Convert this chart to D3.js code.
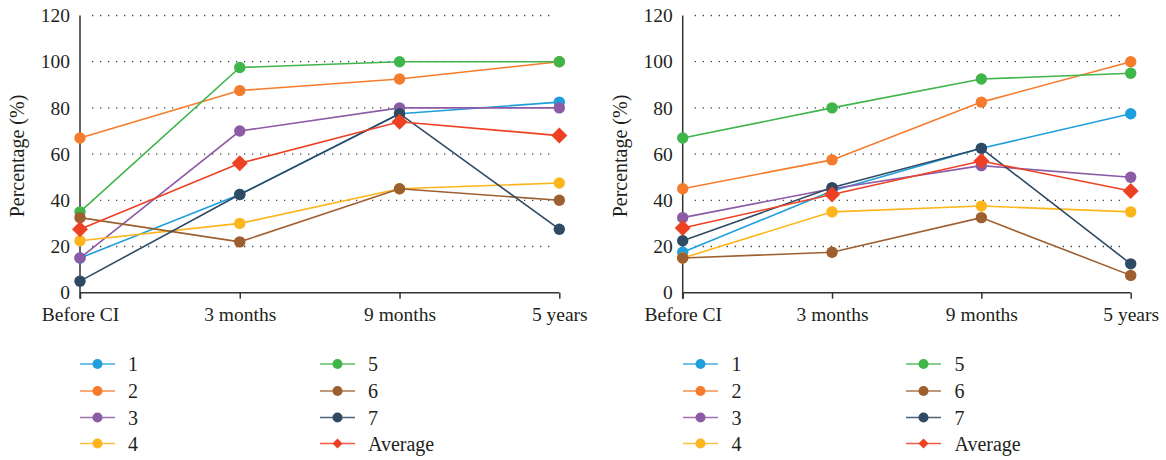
<!DOCTYPE html>
<html>
<head>
<meta charset="utf-8">
<script src="https://cdn.jsdelivr.net/npm/d3@7"></script>
<style>
  html, body { margin: 0; padding: 0; background: #fff; }
  svg { display: block; }
  svg text { font-family: "Liberation Serif", Tinos, "Times New Roman", Times, "Noto Serif", "DejaVu Serif", serif !important; fill: #231f20; }
</style>
</head>
<body>
<svg id="chart" width="1166" height="460"></svg>
<script>
// ---------- data ----------
const categories = ["Before CI", "3 months", "9 months", "5 years"];
const seriesNames = ["1", "2", "3", "4", "5", "6", "7", "Average"];
const yTicks = [0, 20, 40, 60, 80, 100, 120];

// left panel
const left1 = [15, 42.5, 77.5, 82.5];
const left2 = [67, 87.5, 92.5, 100];
const left3 = [15, 70, 80, 80];
const left4 = [22.5, 30, 45, 47.5];
const left5 = [35, 97.5, 100, 100];
const left6 = [32.5, 22, 45, 40];
const left7 = [5, 42.5, 77.5, 27.5];
const leftAvg = [27.5, 56, 74, 68];

// right panel
const right1 = [17.5, 44, 62.5, 77.5];
const right2 = [45, 57.5, 82.5, 100];
const right3 = [32.5, 45, 55, 50];
const right4 = [15, 35, 37.5, 35];
const right5 = [67, 80, 92.5, 95];
const right6 = [15, 17.5, 32.5, 7.5];
const right7 = [22.5, 45.5, 62.5, 12.5];
const rightAvg = [28, 42.5, 57, 44];

const colors = ["#1f9fdc", "#f47c2c", "#8c5ba6", "#fcb51b", "#3fb54a", "#9e5f30", "#2f4a63", "#ee4123"];

// ---------- drawing ----------
const FONT = '"Liberation Serif", Tinos, "Times New Roman", Times, "Noto Serif", "DejaVu Serif", serif';
const svg = d3.select("#chart").attr("font-family", FONT);

function panel(opts) {
  const { x0, x1, data, legend } = opts;
  const y = d3.scaleLinear().domain([0, 120]).range([292.7, 15.5]);
  const x = d3.scalePoint().domain(categories).range([x0, x1]);
  const g = svg.append("g");

  // dotted grid
  g.selectAll("line.grid").data(yTicks.filter(d => d > 0)).join("line")
    .attr("x1", x0 + 12).attr("x2", x1 - 6)
    .attr("y1", d => y(d)).attr("y2", d => y(d))
    .attr("stroke", "#444").attr("stroke-width", 1.3)
    .attr("stroke-dasharray", "1.3 6.7");

  // y axis
  const ya = g.append("g").attr("transform", `translate(${x0},0)`)
    .call(d3.axisLeft(y).tickValues(yTicks).tickSize(0).tickPadding(10));
  ya.attr("font-family", FONT);
  ya.select(".domain").remove();
  ya.selectAll("text").style("font-size", "19.5px").attr("fill", "#231f20");
  g.append("line").attr("x1", x0).attr("x2", x0).attr("y1", y(120)).attr("y2", y(0) + 6)
    .attr("stroke", "#333").attr("stroke-width", 1.5);

  // x axis
  const xa = g.append("g").attr("transform", `translate(0,${y(0)})`)
    .call(d3.axisBottom(x).tickSize(6).tickPadding(8));
  xa.attr("font-family", FONT);
  xa.select(".domain").attr("d", `M${x0},0H${x1}`).attr("stroke", "#333").attr("stroke-width", 1.5);
  xa.selectAll(".tick line").attr("stroke", "#333").attr("stroke-width", 1.5);
  xa.selectAll("text").style("font-size", "19.5px").attr("fill", "#231f20");

  // y label
  g.append("text")
    .attr("transform", `translate(${x0 - 56},156) rotate(-90)`)
    .attr("text-anchor", "middle")
    .style("font-size", "20px")
    .text("Percentage (%)");

  const line = d3.line().x((d, i) => x(categories[i])).y(d => y(d));
  const diamond = d3.symbol().type(d3.symbolSquare).size(128);

  data.forEach((vals, si) => {
    const c = colors[si];
    g.append("path").datum(vals).attr("d", line)
      .attr("fill", "none").attr("stroke", c).attr("stroke-width", 1.6);
    if (si < 7) {
      g.selectAll(null).data(vals).join("circle")
        .attr("cx", (d, i) => x(categories[i])).attr("cy", d => y(d))
        .attr("r", 5.7).attr("fill", c);
    } else {
      g.selectAll(null).data(vals).join("path")
        .attr("d", diamond)
        .attr("transform", (d, i) => `translate(${x(categories[i])},${y(d)}) rotate(45)`)
        .attr("fill", c);
    }
  });

  // legend
  const rows = [364, 391, 417.5, 443.5];
  const lg = g.append("g");
  seriesNames.forEach((name, si) => {
    const col = si < 4 ? 0 : 1;
    const row = si % 4;
    const lx = legend.cols[col];
    const ly = rows[row];
    const c = colors[si];
    lg.append("line").attr("x1", lx).attr("x2", lx + 35).attr("y1", ly).attr("y2", ly)
      .attr("stroke", c).attr("stroke-width", 1.6).attr("stroke-opacity", 0.85);
    if (si < 7) {
      lg.append("circle").attr("cx", lx + 17.5).attr("cy", ly).attr("r", 5).attr("fill", c);
    } else {
      lg.append("path").attr("d", d3.symbol().type(d3.symbolSquare).size(50))
        .attr("transform", `translate(${lx + 17.5},${ly}) rotate(45)`).attr("fill", c);
    }
    lg.append("text").attr("x", lx + legend.textOff).attr("y", ly).attr("dy", "0.35em")
      .style("font-size", "20px").text(name);
  });
}

panel({
  x0: 80, x1: 559.3,
  data: [left1, left2, left3, left4, left5, left6, left7, leftAvg],
  legend: { cols: [80, 320], textOff: 48 }
});
panel({
  x0: 682.7, x1: 1130.7,
  data: [right1, right2, right3, right4, right5, right6, right7, rightAvg],
  legend: { cols: [683, 906], textOff: 48.5 }
});
</script>
</body>
</html>
